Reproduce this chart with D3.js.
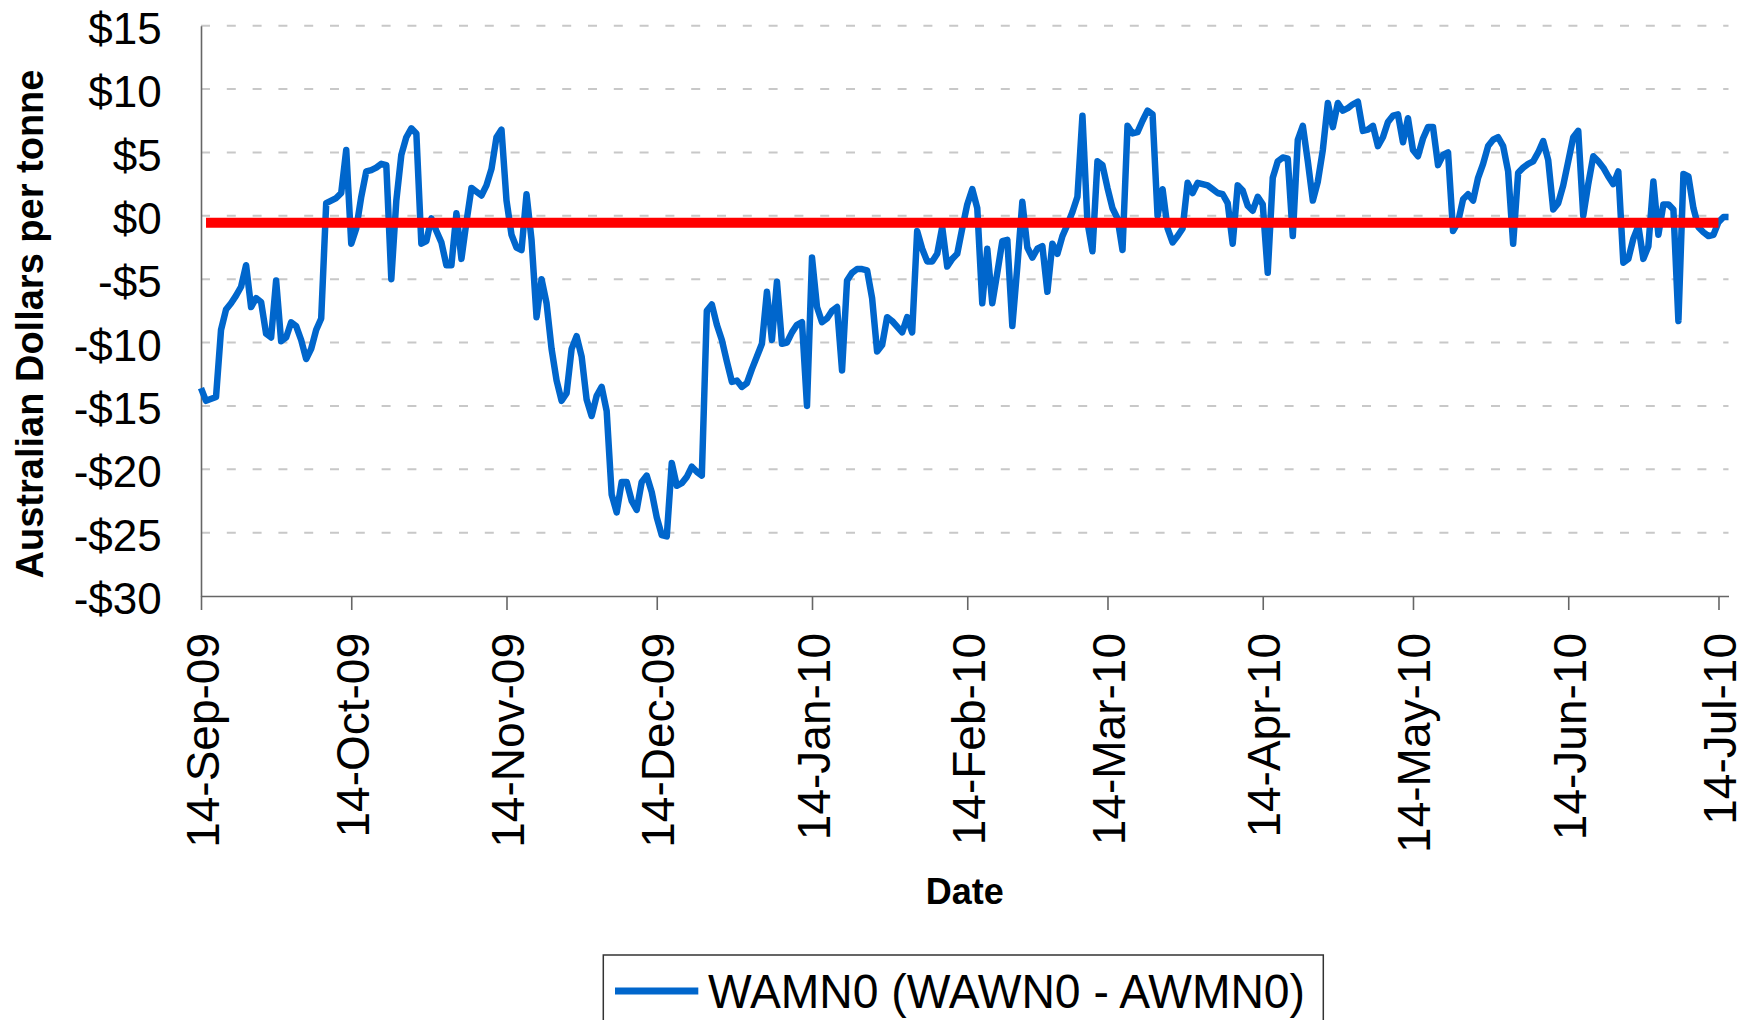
<!DOCTYPE html>
<html>
<head>
<meta charset="utf-8">
<title>WAMN0 spread</title>
<script src="https://cdnjs.cloudflare.com/ajax/libs/d3/7.8.5/d3.min.js"></script>
<style>
    body { margin: 0; background: #fff; }
    #chart-area { width: 1752px; height: 1020px; overflow: hidden; }
    text { font-family: "Liberation Sans", Arial, sans-serif; fill: #000; }
</style>
</head>
<body>
<div id="chart-area"></div>
<script>

// WAMN0 (WAWN0 - AWMN0), A$ per tonne - [day of month, value]
const sep09 = [[14,-13.6],[15,-14.6],[17,-14.3],[18,-9.0],[19,-7.4],[20,-6.9],[21,-6.3],[22,-5.6],[23,-3.9],[24,-7.2],[25,-6.5],[26,-6.8],[27,-9.3],[28,-9.6],[29,-5.1],[30,-9.9]];
const oct09 = [[1,-9.6],[2,-8.4],[3,-8.7],[4,-9.8],[5,-11.3],[6,-10.5],[7,-9.0],[8,-8.1],[9,1.0],[10,1.2],[11,1.4],[12,1.8],[13,5.2],[14,-2.2],[15,-1.0],[16,1.5],[17,3.5],[18,3.6],[19,3.8],[20,4.1],[21,4.0],[22,-5.0],[23,1.2],[24,4.8],[25,6.2],[26,6.9],[27,6.5],[28,-2.2],[29,-2.0],[30,-0.2],[31,-1.2]];
const nov09 = [[1,-2.1],[2,-3.9],[3,-3.9],[4,0.2],[5,-3.4],[6,-0.5],[7,2.2],[9,1.6],[10,2.4],[11,3.7],[12,6.2],[13,6.8],[14,1.2],[15,-1.5],[16,-2.5],[17,-2.7],[18,1.7],[19,-1.9],[20,-8.0],[21,-5.0],[22,-6.9],[23,-10.5],[24,-13.0],[25,-14.6],[26,-14.0],[27,-10.5],[28,-9.5],[29,-11.1],[30,-14.5]];
const dec09 = [[1,-15.8],[2,-14.2],[3,-13.5],[4,-15.4],[5,-22.0],[6,-23.4],[7,-21.0],[8,-21.0],[9,-22.5],[10,-23.2],[11,-21.0],[12,-20.5],[13,-21.8],[14,-23.8],[15,-25.2],[16,-25.3],[17,-19.5],[18,-21.3],[19,-21.1],[20,-20.6],[21,-19.8],[22,-20.2],[23,-20.5],[24,-7.5],[25,-7.0],[26,-8.6],[27,-9.8],[28,-11.5],[29,-13.1],[30,-13.0],[31,-13.5]];
const jan10 = [[1,-13.2],[2,-12.1],[3,-11.1],[4,-10.1],[5,-6.0],[6,-9.8],[7,-5.2],[8,-10.1],[9,-10.0],[10,-9.2],[11,-8.6],[12,-8.4],[13,-15.0],[14,-3.3],[15,-7.2],[16,-8.4],[17,-8.1],[18,-7.5],[19,-7.2],[20,-12.2],[21,-5.1],[22,-4.5],[23,-4.2],[24,-4.2],[25,-4.3],[26,-6.5],[27,-10.7],[28,-10.2],[29,-8.0],[30,-8.3]];
const feb10 = [[1,-9.2],[2,-8.0],[3,-9.2],[4,-1.2],[5,-2.6],[6,-3.6],[7,-3.6],[8,-3.0],[9,-0.9],[10,-4.0],[11,-3.4],[12,-3.0],[13,-1.0],[14,0.9],[15,2.1],[16,0.6],[17,-6.9],[18,-2.6],[19,-6.9],[20,-4.5],[21,-2.0],[22,-1.9],[23,-8.7],[24,-4.0],[25,1.1],[26,-2.5],[27,-3.3],[28,-2.6]];
const mar10 = [[1,-2.4],[2,-6.0],[3,-2.2],[4,-3.0],[5,-1.6],[6,-0.7],[7,0.3],[8,1.5],[9,7.9],[10,-0.5],[11,-2.8],[12,4.3],[13,4.0],[14,2.2],[15,0.6],[16,-0.2],[17,-2.7],[18,7.1],[19,6.5],[20,6.6],[21,7.5],[22,8.3],[23,8.0],[24,0.0],[25,2.1],[26,-1.0],[27,-2.1],[28,-1.6],[29,-1.0],[30,2.6],[31,1.8]];
const apr10 = [[1,2.6],[2,2.5],[3,2.4],[4,2.1],[5,1.8],[6,1.7],[7,1.0],[8,-2.2],[9,2.4],[10,2.0],[11,0.8],[12,0.4],[13,1.5],[14,0.9],[15,-4.5],[16,3.0],[17,4.3],[18,4.6],[19,4.5],[20,-1.6],[21,6.0],[22,7.1],[23,4.3],[24,1.2],[25,2.7],[26,5.2],[27,8.9],[28,7.0],[29,8.9],[30,8.3]];
const may10 = [[1,8.5],[2,8.8],[3,9.0],[4,6.7],[5,6.8],[6,7.1],[7,5.5],[8,6.2],[9,7.4],[10,7.9],[11,8.0],[12,5.8],[13,7.7],[14,5.2],[15,4.7],[16,6.1],[17,7.0],[18,7.0],[19,4.0],[20,4.8],[21,5.0],[22,-1.2],[23,-0.5],[24,1.3],[25,1.7],[26,1.2],[27,3.0],[28,4.1],[29,5.5],[30,6.0],[31,6.2]];
const jun10 = [[1,5.5],[2,3.5],[3,-2.2],[4,3.4],[5,3.8],[6,4.1],[7,4.3],[8,5.0],[9,5.9],[10,4.4],[11,0.5],[12,1.0],[13,2.4],[14,4.3],[15,6.2],[16,6.7],[17,0.0],[18,2.5],[19,4.7],[20,4.3],[21,3.8],[22,3.1],[23,2.5],[24,3.5],[25,-3.7],[26,-3.4],[27,-1.8],[28,-0.8],[29,-3.4],[30,-2.4]];
const jul10 = [[1,2.7],[2,-1.5],[3,0.9],[4,0.9],[5,0.5],[6,-8.3],[7,3.3],[8,3.1],[9,0.6],[10,-0.9],[11,-1.3],[12,-1.6],[13,-1.5],[14,-0.5],[15,-0.1],[16,-0.1]];

const months = ["2009-09", "2009-10", "2009-11", "2009-12", "2010-01", "2010-02", "2010-03", "2010-04", "2010-05", "2010-06", "2010-07"];
const monthlyValues = [sep09, oct09, nov09, dec09, jan10, feb10, mar10, apr10, may10, jun10, jul10];

// red reference line
const refDates = ["2009-09-15", "2010-07-14"];
const refValue = -0.55;

const xDomain = ["2009-09-14", "2010-07-16"];
const xTickDates = ["2009-09-14", "2009-10-14", "2009-11-14", "2009-12-14", "2010-01-14", "2010-02-14", "2010-03-14", "2010-04-14", "2010-05-14", "2010-06-14", "2010-07-14"];
const yTicks = [-30, -25, -20, -15, -10, -5, 0, 5, 10, 15];

const seriesName = "WAMN0 (WAWN0 - AWMN0)";
const xTitle = "Date";
const yTitle = "Australian Dollars per tonne";


class SpreadChart {

    constructor(_parentElement, _data, _refLine) {
        this.parentElement = _parentElement;
        this.data = _data;
        this.refLine = _refLine;

        this.initVis();
    }

    initVis() {
        let vis = this;

        vis.margin = { top: 25.7, right: 23.5, bottom: 424, left: 201 };

        vis.width = 1752 - vis.margin.left - vis.margin.right,
            vis.height = 1020 - vis.margin.top - vis.margin.bottom;

        vis.root = d3.select("#" + vis.parentElement).append("svg")
            .attr("width", 1752)
            .attr("height", 1020);

        // SVG drawing area
        vis.svg = vis.root.append("g")
            .attr("transform", "translate(" + vis.margin.left + "," + vis.margin.top + ")");

        // Scales and axes
        vis.x = d3.scaleTime()
            .domain(xDomain.map(d3.timeParse("%Y-%m-%d")))
            .range([0, vis.width]);

        vis.y = d3.scaleLinear()
            .domain([-30, 15])
            .range([vis.height, 0]);

        vis.xAxis = d3.axisBottom()
            .scale(vis.x)
            .tickValues(xTickDates.map(d3.timeParse("%Y-%m-%d")))
            .tickFormat(d3.timeFormat("%d-%b-%y"))
            .tickSize(14)
            .tickSizeOuter(0);

        vis.yAxis = d3.axisLeft()
            .scale(vis.y)
            .tickValues(yTicks)
            .tickFormat(d => (d < 0 ? "-$" : "$") + Math.abs(d))
            .tickSize(0)
            .tickPadding(39.3);

        // dashed gridlines (not on the bottom axis)
        vis.svg.append("g")
            .attr("class", "grid")
            .selectAll("line")
            .data(yTicks.filter(d => d > -30))
            .enter().append("line")
            .attr("x1", 0)
            .attr("x2", vis.width)
            .attr("y1", d => vis.y(d))
            .attr("y2", d => vis.y(d))
            .attr("stroke", "#c8c8c8")
            .attr("stroke-width", 2)
            .attr("stroke-dasharray", "9,16.8");

        vis.svg.append("g")
            .attr("class", "x-axis axis")
            .attr("transform", "translate(0," + vis.height + ")");

        vis.svg.append("g")
            .attr("class", "y-axis axis");

        // Axis titles
        vis.root.append("text")
            .attr("x", vis.margin.left + vis.width / 2)
            .attr("y", 904.3)
            .attr("text-anchor", "middle")
            .style("font-size", "36px")
            .style("font-weight", "bold")
            .text(xTitle);

        vis.root.append("text")
            .attr("transform", "translate(43.3,324) rotate(-90)")
            .attr("text-anchor", "middle")
            .style("font-size", "38px")
            .style("font-weight", "bold")
            .text(yTitle);

        vis.line = d3.line()
            .x(d => vis.x(d.date))
            .y(d => vis.y(d.value));

        vis.seriesPath = vis.svg.append("path")
            .attr("fill", "none")
            .attr("stroke", "#0066cc")
            .attr("stroke-width", 6.5)
            .attr("stroke-linejoin", "round");

        // red line sits on top of the blue one
        vis.refPath = vis.svg.append("path")
            .attr("fill", "none")
            .attr("stroke", "#ff0000")
            .attr("stroke-width", 10);

        // Legend (box runs off the bottom of the picture)
        vis.legend = vis.root.append("g")
            .attr("class", "legend");

        vis.legend.append("rect")
            .attr("x", 603.3)
            .attr("y", 955)
            .attr("width", 720)
            .attr("height", 100)
            .attr("fill", "#fff")
            .attr("stroke", "#333")
            .attr("stroke-width", 1.5);

        vis.legend.append("line")
            .attr("x1", 615)
            .attr("x2", 698.3)
            .attr("y1", 991)
            .attr("y2", 991)
            .attr("stroke", "#0066cc")
            .attr("stroke-width", 7);

        vis.legend.append("text")
            .attr("x", 708)
            .attr("y", 1008.3)
            .attr("textLength", 597)
            .attr("lengthAdjust", "spacingAndGlyphs")
            .style("font-size", "48px")
            .text(seriesName);

        vis.wrangleData();
    }

    wrangleData() {
        let vis = this;

        vis.displayData = vis.data;

        vis.updateVis();
    }

    updateVis() {
        let vis = this;

        vis.seriesPath.datum(vis.displayData).attr("d", vis.line);
        vis.refPath.datum(vis.refLine).attr("d", vis.line);

        // Call axis functions
        vis.svg.select(".x-axis").call(vis.xAxis);
        vis.svg.select(".y-axis").call(vis.yAxis);

        vis.svg.selectAll(".axis path, .axis line")
            .attr("stroke", "#666")
            .attr("stroke-width", 1.6);

        vis.svg.select(".x-axis").selectAll("text")
            .attr("x", 0)
            .attr("y", 0)
            .attr("dy", null)
            .attr("transform", "translate(17,37) rotate(-90)")
            .style("text-anchor", "end")
            .style("font-size", "46px")
            .style("font-family", "'Liberation Sans', Arial, sans-serif")
            .attr("fill", "#000");

        vis.svg.select(".y-axis").selectAll("text")
            .attr("dy", "0.4em")
            .style("font-size", "44px")
            .style("font-family", "'Liberation Sans', Arial, sans-serif")
            .attr("fill", "#000");
    }
}


let parseDate = d3.timeParse("%Y-%m-%d");

let spreadData = [];
months.forEach(function (m, i) {
    monthlyValues[i].forEach(function (p) {
        spreadData.push({ date: parseDate(m + "-" + String(p[0]).padStart(2, "0")), value: p[1] });
    });
});

let refData = refDates.map(d => ({ date: parseDate(d), value: refValue }));

let spreadChart = new SpreadChart("chart-area", spreadData, refData);

</script>
</body>
</html>
